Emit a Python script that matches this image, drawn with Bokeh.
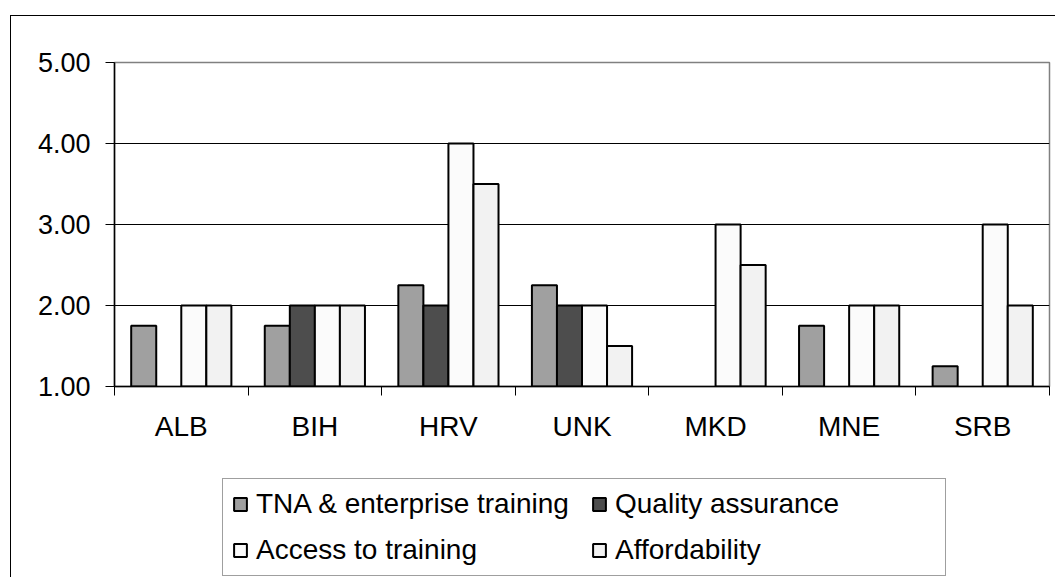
from bokeh.plotting import figure
from bokeh.layouts import column
from bokeh.models import (Range1d, FixedTicker, Legend, LegendItem, ColumnDataSource,
                          NumeralTickFormatter, GlobalInlineStyleSheet)
from bokeh.embed import file_html
from bokeh.resources import INLINE

countries = ["ALB", "BIH", "HRV", "UNK", "MKD", "MNE", "SRB"]
series_names = ["TNA & enterprise training", "Quality assurance", "Access to training", "Affordability"]
tna = [1.75, 1.75, 2.25, 2.25, None, 1.75, 1.25]
quality = [None, 2.0, 2.0, 2.0, None, None, None]
access = [2.0, 2.0, 4.0, 2.0, 3.0, 2.0, 3.0]
afford = [2.0, 2.0, 3.5, 1.5, 2.5, 2.0, 2.0]
y_ticks = [1, 2, 3, 4, 5]
colors = ["#A0A0A0", "#4D4D4D", "#FBFBFB", "#F2F2F2"]

FONT = "Liberation Sans"
BAR_W = 0.1875
W = 1055
H_MAIN = 470
H_LEG = 107

# outer chart box (only its top and left edges fall inside the picture)
outer_css = GlobalInlineStyleSheet(css="""
html {
  background-color: white;
  background-image: linear-gradient(#000,#000), linear-gradient(#000,#000);
  background-size: 100% 1px, 1px 100%;
  background-position: 10px 15px, 10px 15px;
  background-repeat: no-repeat;
}
body { background: transparent; }
""")

p = figure(width=W, height=H_MAIN, output_backend="svg", toolbar_location=None,
           x_range=Range1d(0, len(countries)), y_range=Range1d(1, 5),
           min_border_left=114, min_border_right=6, min_border_top=62, min_border_bottom=84,
           background_fill_color="white", border_fill_alpha=0)
p.outline_line_color = "#808080"
p.outline_line_width = 1.5

# grid
p.xgrid.visible = False
p.ygrid.ticker = FixedTicker(ticks=[2, 3, 4])
p.ygrid.grid_line_color = "#000000"
p.ygrid.grid_line_width = 1

# y axis
p.yaxis.ticker = FixedTicker(ticks=y_ticks)
p.yaxis.formatter = NumeralTickFormatter(format="0.00")
p.yaxis.axis_line_color = "#000000"
p.yaxis.axis_line_width = 1.5
p.yaxis.major_tick_out = 9
p.yaxis.major_tick_in = 0
p.yaxis.major_tick_line_color = "#000000"
p.yaxis.minor_tick_line_color = None
p.yaxis.major_label_standoff = 15
p.yaxis.major_label_text_font = FONT
p.yaxis.major_label_text_font_size = "27px"
p.yaxis.major_label_text_color = "#000000"

# x axis: labels at centers, ticks at boundaries
centers = [i + 0.5 for i in range(len(countries))]
bounds = [float(i) for i in range(len(countries) + 1)]
p.xaxis.ticker = FixedTicker(ticks=centers, minor_ticks=bounds)
p.xaxis.major_label_overrides = {c: name for c, name in zip(centers, countries)}
p.xaxis.axis_line_color = "#000000"
p.xaxis.axis_line_width = 1.5
p.xaxis.major_tick_line_color = None
p.xaxis.major_tick_out = 0
p.xaxis.major_tick_in = 0
p.xaxis.minor_tick_line_color = "#000000"
p.xaxis.minor_tick_out = 9
p.xaxis.minor_tick_in = 0
p.xaxis.major_label_standoff = 15
p.xaxis.major_label_text_font = FONT
p.xaxis.major_label_text_font_size = "28px"
p.xaxis.major_label_text_color = "#000000"

all_series = [tna, quality, access, afford]
for k, (vals, col) in enumerate(zip(all_series, colors)):
    xs, tops = [], []
    for i, v in enumerate(vals):
        if v is None:
            continue
        xs.append(i + 0.5 + (k - 1.5) * BAR_W)
        tops.append(v)
    src = ColumnDataSource(dict(x=xs, top=tops))
    p.vbar(x="x", top="top", bottom=1, width=BAR_W, source=src,
           fill_color=col, line_color="#000000", line_width=2)

# legend strip below the chart (its frame is aligned with the chart's frame)
pl = figure(width=W, height=H_LEG, output_backend="svg", toolbar_location=None,
            x_axis_location=None, y_axis_location=None, min_border=0,
            x_range=Range1d(0, 1), y_range=Range1d(0, 1),
            background_fill_alpha=0, border_fill_alpha=0)
pl.outline_line_color = None
pl.grid.visible = False
leg_renderers = []
for col in colors:
    # tiny swatch source for the legend entry; it sits hidden behind the legend box
    r = pl.vbar(x=[0.5], top=[0.6], bottom=0.4, width=0.005,
                fill_color=col, line_color="#000000", line_width=2)
    leg_renderers.append(r)

legend = Legend(items=[LegendItem(label=n, renderers=[r]) for n, r in zip(series_names, leg_renderers)],
                orientation="horizontal", ncols=2, location=(108, 1), margin=0,
                padding=9, spacing=14, label_standoff=8,
                glyph_width=16, glyph_height=16, label_height=32, label_width=321,
                label_text_font=FONT, label_text_font_size="28px", label_text_color="#000000",
                border_line_color="#404040", border_line_width=1,
                background_fill_color="white", background_fill_alpha=1)
pl.add_layout(legend)

layout = column(p, pl, spacing=0, stylesheets=[outer_css])
open("out.html", "w").write(file_html(layout, INLINE))
